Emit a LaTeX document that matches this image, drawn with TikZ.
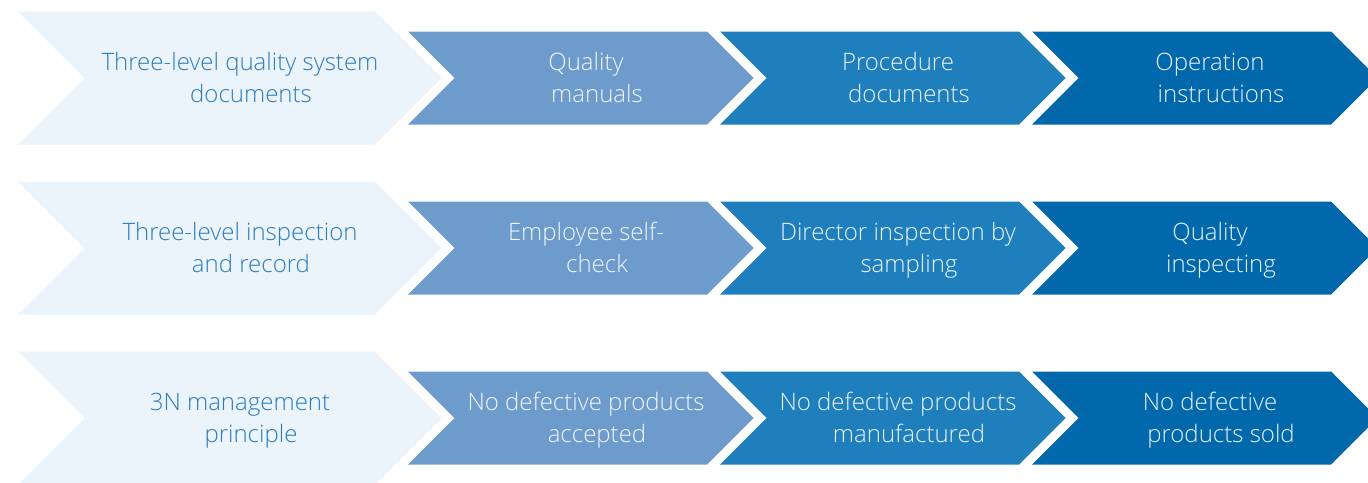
\documentclass[tikz,border=0pt]{standalone}
\usepackage{fontspec}
\setmainfont{Open Sans Light}
\definecolor{cA}{HTML}{EBF3FB}
\definecolor{cB}{HTML}{6D9BCB}
\definecolor{cC}{HTML}{1F7FBD}
\definecolor{cD}{HTML}{0268AC}
\definecolor{tA}{HTML}{2C7DBE}
\newcommand{\mychev}[5]{\fill[#5] (#1,#2-#4) -- ++(#3,0) -- ++(#4,#4) -- ++(-#4,#4) -- ++(-#3,0) -- ++(#4,-#4) -- cycle;}
\newcommand{\tl}{\hspace*{22pt}\strut}
\newcommand{\tm}{\strut}
\begin{document}
\begin{tikzpicture}[x=1pt,y=-1pt,
  lbl/.style={font=\fontsize{24}{32}\selectfont, align=center, inner sep=0pt},
  darklbl/.style={lbl, text=tA},
  lightlbl/.style={lbl, text=white, text opacity=0.9}]
\useasboundingbox (0,0) rectangle (1368,482);
\clip (0,0) rectangle (1368,482);
\foreach \yc in {78,248,418}{
  \mychev{18}{\yc}{357}{66.5}{cA}
  \mychev{408}{\yc}{299}{46.5}{cB}
  \mychev{720}{\yc}{299}{46.5}{cC}
  \mychev{1032}{\yc}{299}{46.5}{cD}
}
\node[darklbl] (a1) at (251,80.5) {Three-level quality system\tl\\documents\tm};
\node[lightlbl] (b1) at (597,80.5) {Quality\tl\\manuals\tm};
\node[lightlbl] (c1) at (909,80.5) {Procedure\tl\\documents\tm};
\node[lightlbl] (d1) at (1221,80.5) {Operation\tl\\instructions\tm};
\node[darklbl] (a2) at (251,250.5) {Three-level inspection\tl\\and record\tm};
\node[lightlbl] (b2) at (597,250.5) {Employee self-\tl\\check\tm};
\node[lightlbl] (c2) at (909,250.5) {Director inspection by\tl\\sampling\tm};
\node[lightlbl] (d2) at (1221,250.5) {Quality\tl\\inspecting\tm};
\node[darklbl] (a3) at (251,420.5) {3N management\tl\\principle\tm};
\node[lightlbl] (b3) at (597,420.5) {No defective products\tl\\accepted\tm};
\node[lightlbl] (c3) at (909,420.5) {No defective products\tl\\manufactured\tm};
\node[lightlbl] (d3) at (1221,420.5) {No defective\tl\\products sold\tm};
\end{tikzpicture}
\end{document}
